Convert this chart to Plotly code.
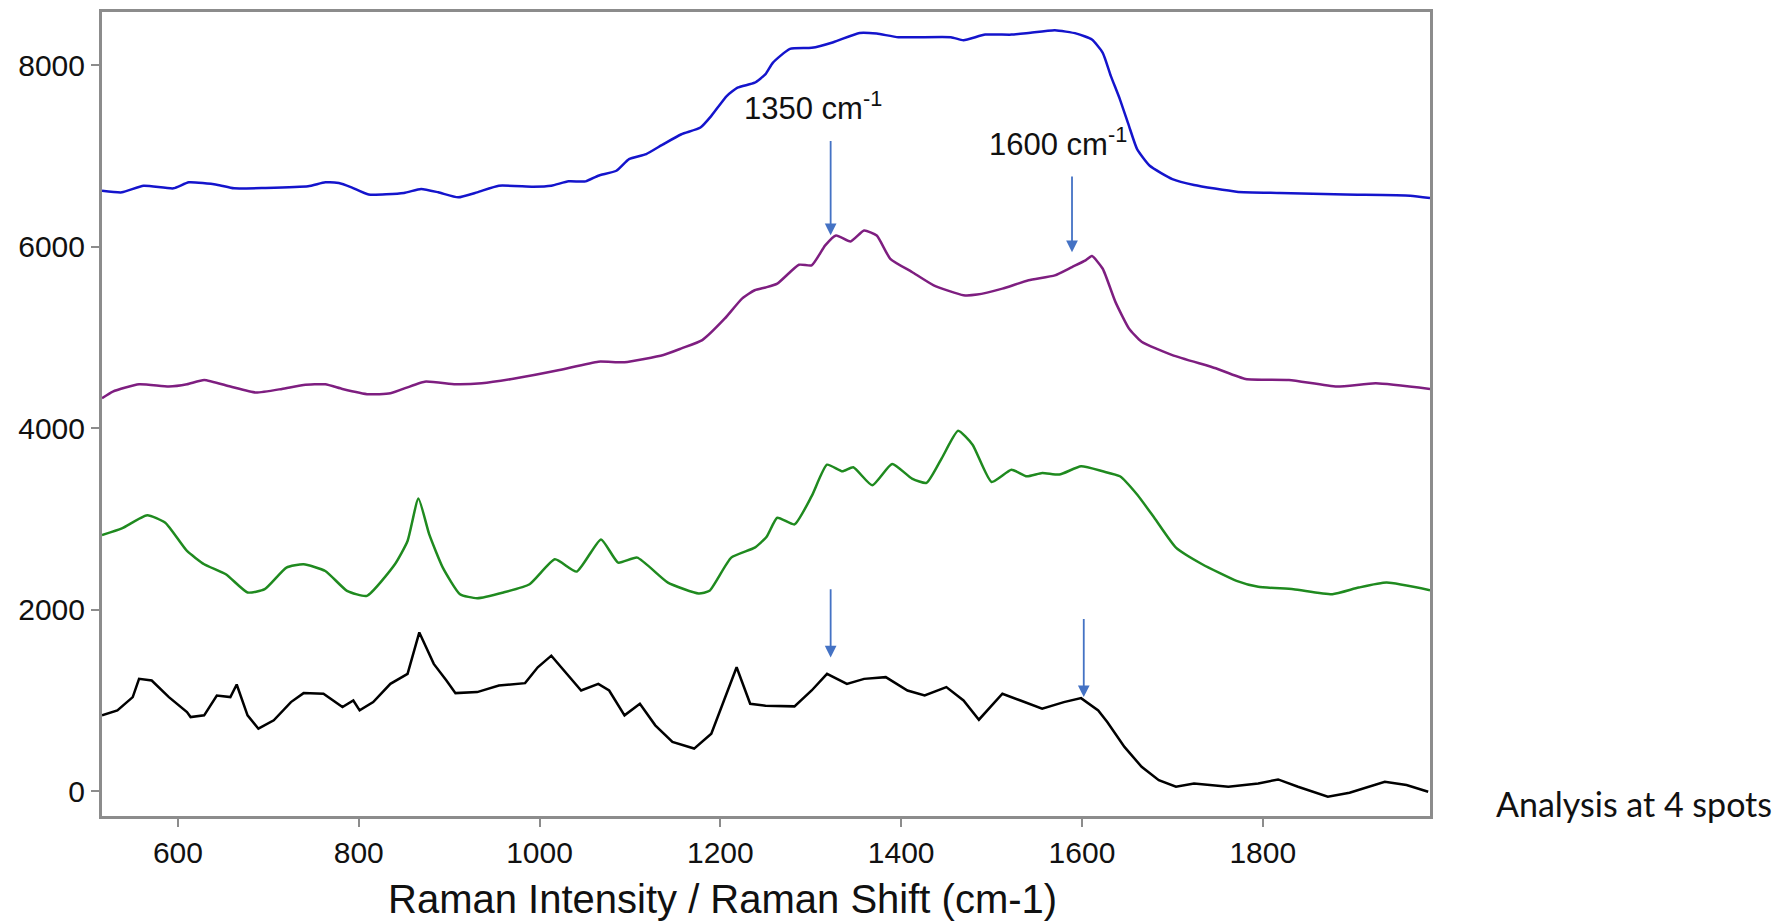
import plotly.graph_objects as go

# Raman shift (cm-1) and intensity values
blue_x = [516, 538, 562, 595, 612, 643, 662, 696, 744, 763, 778, 792, 811, 850, 869, 888, 910, 931, 955, 993,
          1013, 1032, 1051, 1065, 1085, 1099, 1118, 1137, 1157, 1178, 1190, 1207, 1219, 1238, 1250, 1258, 1277,
          1301, 1325, 1354, 1373, 1397, 1455, 1469, 1493, 1522, 1541, 1570, 1594, 1611, 1623, 1632, 1642, 1652,
          1661, 1675, 1700, 1724, 1771, 1819, 1891, 1963, 1985]
blue_y = [6616, 6598, 6671, 6642, 6708, 6682, 6642, 6646, 6664, 6708, 6701, 6653, 6573, 6591, 6635, 6598, 6543,
          6598, 6671, 6660, 6671, 6719, 6719, 6781, 6836, 6964, 7019, 7129, 7238, 7312, 7440, 7659, 7751, 7806,
          7900, 8025, 8179, 8190, 8252, 8354, 8347, 8307, 8307, 8274, 8336, 8336, 8354, 8384, 8347, 8281, 8135,
          7879, 7623, 7330, 7074, 6891, 6744, 6679, 6605, 6591, 6573, 6561, 6536]

purple_x = [516, 528, 557, 590, 610, 629, 658, 686, 715, 739, 763, 782, 811, 835, 873, 907, 936, 974, 1022, 1065,
            1094, 1137, 1157, 1180, 1205, 1224, 1238, 1250, 1263, 1287, 1301, 1316, 1328, 1344, 1359, 1373, 1388,
            1412, 1436, 1469, 1484, 1512, 1541, 1570, 1589, 1604, 1611, 1623, 1637, 1652, 1666, 1700, 1748, 1781,
            1829, 1882, 1925, 1985]
purple_y = [4329, 4403, 4483, 4458, 4483, 4531, 4458, 4392, 4432, 4476, 4483, 4432, 4373, 4384, 4512, 4483, 4494,
            4549, 4640, 4732, 4725, 4805, 4878, 4970, 5208, 5427, 5519, 5550, 5592, 5800, 5793, 6013, 6122, 6056,
            6177, 6122, 5866, 5720, 5573, 5464, 5471, 5537, 5629, 5683, 5775, 5848, 5896, 5756, 5391, 5098, 4952,
            4805, 4659, 4542, 4531, 4458, 4494, 4432]

green_x = [516, 538, 566, 586, 610, 629, 653, 677, 696, 720, 739, 763, 787, 809, 840, 854, 866, 878, 893, 912,
           931, 960, 989, 1017, 1041, 1068, 1087, 1108, 1142, 1176, 1188, 1212, 1238, 1251, 1263, 1282, 1301, 1318,
           1335, 1347, 1368, 1390, 1412, 1428, 1445, 1463, 1479, 1500, 1522, 1539, 1556, 1575, 1599, 1623, 1642,
           1661, 1680, 1704, 1733, 1771, 1795, 1834, 1877, 1906, 1937, 1985]
green_y = [2822, 2895, 3041, 2957, 2646, 2500, 2390, 2189, 2225, 2463, 2500, 2426, 2207, 2152, 2500, 2756, 3224,
           2829, 2463, 2170, 2126, 2189, 2280, 2554, 2419, 2774, 2518, 2573, 2298, 2178, 2207, 2573, 2683, 2800,
           3012, 2939, 3250, 3597, 3524, 3568, 3370, 3605, 3444, 3396, 3670, 3970, 3817, 3407, 3542, 3469, 3506,
           3488, 3579, 3524, 3469, 3268, 3012, 2683, 2500, 2317, 2251, 2225, 2170, 2243, 2298, 2214]

black_x = [516, 533, 550, 557, 571, 590, 610, 614, 629, 643, 658, 665, 677, 689, 706, 725, 739, 761, 782, 794,
           801, 816, 835, 854, 867, 883, 897, 907, 931, 955, 984, 998, 1013, 1027, 1046, 1065, 1077, 1094, 1111,
           1128, 1147, 1171, 1190, 1204, 1218, 1233, 1250, 1282, 1301, 1318, 1340, 1359, 1383, 1407, 1426, 1450,
           1469, 1486, 1512, 1532, 1556, 1580, 1599, 1618, 1628, 1647, 1666, 1685, 1704, 1724, 1762, 1795, 1817,
           1839, 1872, 1896, 1935, 1959, 1983]
black_y = [835, 890, 1036, 1237, 1219, 1036, 871, 816, 835, 1054, 1036, 1175, 835, 688, 780, 981, 1080, 1073, 926,
           999, 890, 981, 1182, 1292, 1749, 1402, 1219, 1080, 1091, 1164, 1190, 1365, 1493, 1329, 1109, 1182, 1109,
           835, 963, 725, 542, 469, 633, 999, 1365, 963, 940, 934, 1109, 1292, 1182, 1237, 1256, 1109, 1054, 1146,
           999, 787, 1073, 999, 908, 981, 1025, 890, 762, 487, 268, 121, 48, 85, 48, 85, 129, 48, -62, -18, 103,
           67, -7]

x_ticks = [600, 800, 1000, 1200, 1400, 1600, 1800]
y_ticks = [0, 2000, 4000, 6000, 8000]

# Arrow annotations: (tip x, tip y, tail y)
arrows = [(1322, 6126, 7180), (1589, 5939, 6788), (1322, 1473, 2241), (1602, 1036, 1913)]
labels = [(1303, 7545, "1350 cm<sup>-1</sup>"), (1574, 7150, "1600 cm<sup>-1</sup>")]

series = [
    (blue_x, blue_y, "#1414CC", "spline"),
    (purple_x, purple_y, "#7E1E80", "spline"),
    (green_x, green_y, "#1F8A1F", "spline"),
    (black_x, black_y, "#000000", "linear"),
]

fig = go.Figure()
for xs, ys, col, shape in series:
    ln = dict(color=col, width=2.5, shape=shape)
    if shape == "spline":
        ln["smoothing"] = 0.5
    fig.add_trace(go.Scatter(x=xs, y=ys, mode="lines", line=ln, showlegend=False, hoverinfo="skip"))

ann = []
for xt, yt, ytail in arrows:
    ann.append(dict(x=xt, y=yt, ax=xt, ay=ytail, xref="x", yref="y", axref="x", ayref="y", text="",
                    showarrow=True, arrowhead=2, arrowsize=1.3, arrowwidth=1.8, arrowcolor="#4472C4", standoff=0))
for xl, yl, txt in labels:
    ann.append(dict(x=xl, y=yl, xref="x", yref="y", text=txt, showarrow=False,
                    font=dict(family="Liberation Sans, Arial", size=31, color="#111111")))
ann.append(dict(x=0.467, y=-0.103, xref="paper", yref="paper", text="Raman Intensity / Raman Shift (cm-1)",
                showarrow=False, xanchor="center", yanchor="middle",
                font=dict(family="Liberation Sans, Arial", size=40, color="#111111")))
ann.append(dict(x=1.048, y=0.016, xref="paper", yref="paper", text="Analysis at 4 spots",
                showarrow=False, xanchor="left", yanchor="middle",
                font=dict(family="Lato, Noto Sans", size=34, color="#111111")))

fig.update_layout(
    width=1775, height=924,
    margin=dict(l=102, r=345, t=9, b=108),
    paper_bgcolor="white", plot_bgcolor="white",
    annotations=ann,
)
axis_common = dict(showline=True, mirror=True, linecolor="#8c8c8c", linewidth=3, showgrid=False, zeroline=False,
                   ticks="outside", ticklen=8, tickwidth=1.5, tickcolor="#8c8c8c",
                   tickfont=dict(family="Liberation Sans, Arial", size=30, color="#111111"))
fig.update_xaxes(range=[516, 1985], tickvals=x_ticks, **axis_common)
fig.update_yaxes(range=[-274, 8585], tickvals=y_ticks, **axis_common)

fig.write_html("out.html", config={"displayModeBar": False},
               post_script="document.body.style.margin='0';document.body.style.overflow='hidden';")
